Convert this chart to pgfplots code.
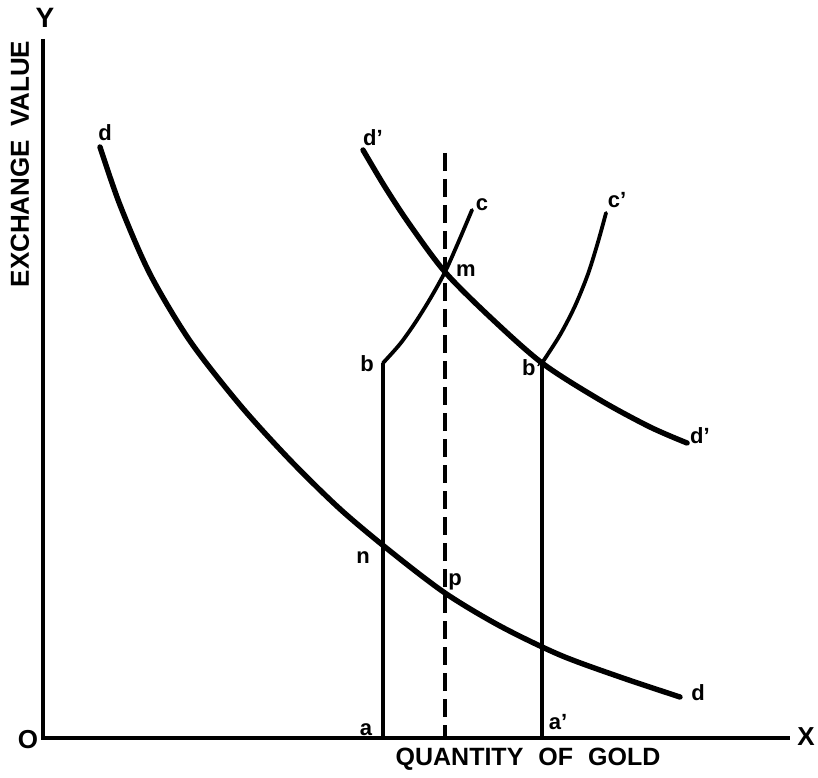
\documentclass[border=0pt]{standalone}
\usepackage{fontspec}
\setmainfont{Liberation Sans}
\usepackage{pgfplots}
\pgfplotsset{compat=1.18}
\tikzset{lbl/.style={font=\fontsize{11}{11}\selectfont\bfseries, inner sep=0pt}}

% coordinates are in pixels of the original figure, y measured upwards
\pgfplotstableread{
x y
100 630
120 572
150 503
190 436
240 372
290 317
340 268
390 226
445 184
500 151
560 122
620 100
680 80
}\dd

\pgfplotstableread{
x y
363 627
385 590
410 552
445 505
490 460
542 414
600 377
650 350
687 334
}\ddprime

\pgfplotstableread{
x y
383 414
400 433
415 454
430 478
445 505
458 534
472 567
}\bc

\pgfplotstableread{
x y
542 414
560 442
575 471
588 503
598 535
606 564
}\bcprime

\begin{document}
\begin{tikzpicture}
\begin{axis}[
  x=0.5pt, y=0.5pt,
  xmin=0, xmax=818, ymin=0, ymax=777,
  hide axis, clip=false,
]
\path (axis cs:0,0) rectangle (axis cs:818,777);

% axes
\addplot[black, line width=2.2pt, line join=miter] coordinates {(43,738) (43,39) (790,39)};

% demand curves
\addplot[black, line width=2.7pt, smooth, line cap=round] table {\dd};
\addplot[black, line width=2.7pt, smooth, line cap=round] table {\ddprime};

% supply curves
\addplot[black, line width=1.9pt] coordinates {(383,39) (383,414)};
\addplot[black, line width=1.9pt, smooth, line cap=round] table {\bc};
\addplot[black, line width=1.9pt] coordinates {(542,39) (542,414)};
\addplot[black, line width=1.9pt, smooth, line cap=round] table {\bcprime};

% dashed line through m and p
\addplot[black, line width=2pt, dash pattern=on 9pt off 4pt] coordinates {(445,624) (445,39)};

% point labels
\node[lbl] at (axis cs:105,644) {d};
\node[lbl] at (axis cs:373,639) {d'};
\node[lbl] at (axis cs:482,572) {c};
\node[lbl] at (axis cs:617,577) {c'};
\node[lbl] at (axis cs:466,506) {m};
\node[lbl] at (axis cs:367,413) {b};
\node[lbl] at (axis cs:532,409) {b'};
\node[lbl] at (axis cs:700,341) {d'};
\node[lbl] at (axis cs:363,219) {n};
\node[lbl] at (axis cs:455,195) {p};
\node[lbl] at (axis cs:366,47) {a};
\node[lbl] at (axis cs:558,55) {a'};
\node[lbl] at (axis cs:698,84) {d};

% axis letters and titles
\node[font=\fontsize{13}{13}\selectfont\bfseries, inner sep=0pt] at (axis cs:28,37) {O};
\node[font=\fontsize{14}{14}\selectfont\bfseries, inner sep=0pt] at (axis cs:45,759) {Y};
\node[font=\fontsize{13}{13}\selectfont\bfseries, inner sep=0pt] at (axis cs:806,40) {X};
\node[font=\fontsize{12.5}{12.5}\selectfont\bfseries, inner sep=0pt] at (axis cs:528,18)
  {QUANTITY\hspace{0.6em}OF\hspace{0.6em}GOLD};
\node[font=\fontsize{13}{13}\selectfont\bfseries, inner sep=0pt, rotate=90] at (axis cs:20,613)
  {EXCHANGE\hspace{0.5em}VALUE};
\end{axis}
\end{tikzpicture}
\end{document}
